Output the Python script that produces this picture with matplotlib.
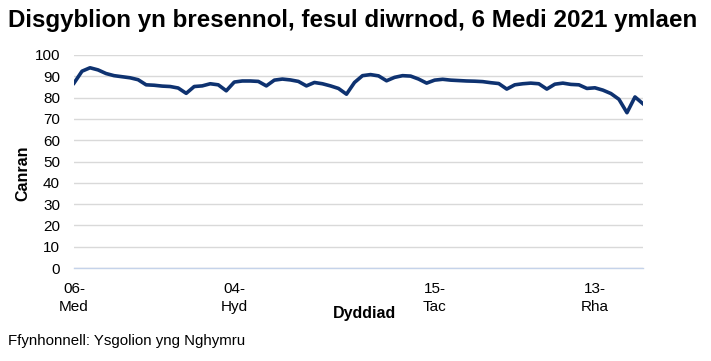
import matplotlib
matplotlib.use("Agg")
import matplotlib.pyplot as plt
import pandas as pd

plt.rcParams['font.family'] = ['Liberation Sans', 'DejaVu Sans']

# School days: 6 Sep 2021 - 21 Dec 2021, excluding half-term week
all_days = pd.bdate_range("2021-09-06", "2021-12-21")
half_term = pd.date_range("2021-10-25", "2021-10-29")
dates = [d for d in all_days if d not in half_term]

attendance = [
    86.8, 92.4, 94.0, 93.0, 91.3, 90.3, 89.8, 89.3, 88.4, 86.0,
    85.8, 85.4, 85.2, 84.5, 82.0, 85.2, 85.5, 86.5, 86.0, 83.2,
    87.3, 87.8, 87.8, 87.6, 85.5, 88.2, 88.7, 88.3, 87.6, 85.5,
    87.1, 86.5, 85.5, 84.3, 81.6, 87.1, 90.3, 90.8, 90.2, 87.9,
    89.5, 90.3, 90.1, 88.7, 86.8, 88.2, 88.6, 88.2, 88.0, 87.8,
    87.7, 87.5, 87.0, 86.6, 84.0, 86.0, 86.5, 86.8, 86.5, 84.0,
    86.3, 86.8, 86.2, 86.0, 84.3, 84.6, 83.5, 81.9, 79.2, 72.9,
    80.3, 77.1,
]

tick_dates = ["2021-09-06", "2021-10-04", "2021-11-15", "2021-12-13"]
tick_labels = ["06-\nMed", "04-\nHyd", "15-\nTac", "13-\nRha"]
y_ticks = [0, 10, 20, 30, 40, 50, 60, 70, 80, 90, 100]

title = "Disgyblion yn bresennol, fesul diwrnod, 6 Medi 2021 ymlaen"
source = "Ffynhonnell: Ysgolion yng Nghymru"

fig = plt.figure(figsize=(7.11, 3.61), dpi=100)
ax = fig.add_axes([74/711, 1-268/361, (643-74)/711, (268-55)/361])

x = list(range(len(dates)))
ax.plot(x, attendance, color="#0E3270", linewidth=2.6, solid_joinstyle="round")

date_index = {d.strftime("%Y-%m-%d"): i for i, d in enumerate(dates)}
ax.set_xticks([date_index[d] for d in tick_dates])
ax.set_xticklabels(tick_labels, fontsize=11, linespacing=1.35)
ax.set_xlim(0, len(dates) - 1)

ax.set_ylim(0, 100)
ax.set_yticks(y_ticks)
ax.tick_params(axis='y', labelsize=11, length=0, pad=10)
ax.tick_params(axis='x', length=0, pad=10)
ax.yaxis.grid(True, color="#D9D9D9", linewidth=1)
ax.set_axisbelow(True)

for s in ["top", "right", "left"]:
    ax.spines[s].set_visible(False)
ax.spines["bottom"].set_color("#C5D3EA")
ax.spines["bottom"].set_linewidth(1)

ax.set_ylabel("Canran", fontsize=11.5, fontweight="bold")
ax.yaxis.set_label_coords(-0.076, 0.446)
ax.set_xlabel("Dyddiad", fontsize=11.5, fontweight="bold")
ax.xaxis.set_label_coords(0.51, -0.18)

fig.text(8/711, 1-21/361, title, fontsize=17.4, fontweight="bold", va="center", ha="left")
fig.text(8/711, 1-341/361, source, fontsize=10.8, va="center", ha="left")

fig.savefig("out.png", dpi=100)
